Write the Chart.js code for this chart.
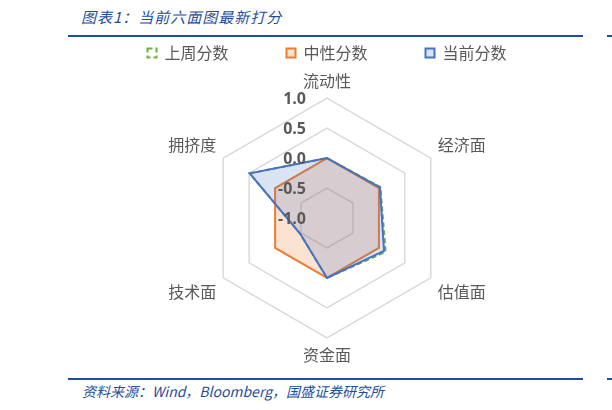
<!DOCTYPE html>
<html>
<head>
<meta charset="utf-8">
<script src="https://cdn.jsdelivr.net/npm/chart.js@4"></script>
<style>
  html, body { margin: 0; padding: 0; background: #fff; width: 612px; height: 410px; overflow: hidden; }
  body { position: relative; font-family: "Noto Sans CJK SC", "Noto Sans", sans-serif; }
  .title {
    position: absolute; left: 81px; top: 6px;
    font-size: 15px; font-style: italic; color: #1f4e9a; letter-spacing: 1px;
  }
  .rule { position: absolute; height: 2px; background: #1f4e9a; z-index: 2; }
  .source {
    position: absolute; left: 82px; top: 381px;
    font-size: 14px; font-style: italic; color: #1f4e9a;
  }
  /* canvas starts above the page so the wide legend padding only pushes it up */
  #wrap { position: absolute; left: 42px; top: -13px; width: 570px; height: 379px; }
</style>
</head>
<body>
<div class="title">图表1：当前六面图最新打分</div>
<div class="rule" style="left:68px; top:35px; width:515px;"></div>
<div class="rule" style="left:607px; top:35px; width:5px;"></div>
<div id="wrap"><canvas id="radar"></canvas></div>
<div class="rule" style="left:68px; top:378px; width:515px;"></div>
<div class="rule" style="left:607px; top:378px; width:5px;"></div>
<div class="source">资料来源：Wind，Bloomberg，国盛证券研究所</div>

<script>
// six scoring dimensions, clockwise from the top
const dimensions = ['流动性', '经济面', '估值面', '资金面', '技术面', '拥挤度'];

// scores
const lastWeek = [0.0, 0.03, 0.13, 0.0, -0.48, 0.49];
const neutral = [0.0, 0.0, 0.0, 0.0, 0.0, 0.0];
const current = [0.0, 0.02, 0.10, 0.0, -0.48, 0.49];

const tickValues = [-1.0, -0.5, 0.0, 0.5, 1.0];

// draw tick labels to the left of the vertical axis, on top of the fills
const tickLabelPlugin = {
    id: 'tickLabels',
    afterDatasetsDraw(chart) {
        const scale = chart.scales.r;
        const ctx = chart.ctx;
        ctx.save();
        ctx.font = 'bold 16px "Open Sans", sans-serif';
        ctx.fillStyle = '#595959';
        ctx.textAlign = 'right';
        ctx.textBaseline = 'middle';
        tickValues.forEach(v => {
            const pos = scale.getPointPositionForValue(0, v);
            ctx.fillText(v.toFixed(1), scale.xCenter - 21, pos.y + 1);
        });
        ctx.restore();
    }
};

new Chart(document.getElementById('radar'), {
    type: 'radar',
    data: {
        labels: dimensions,
        datasets: [
            {
                label: '上周分数',
                data: lastWeek,
                borderColor: '#70ad47',
                backgroundColor: 'rgba(255,255,255,0)',
                borderWidth: 2,
                borderDash: [5, 3],
                fill: false,
                pointRadius: 0,
                order: 3
            },
            {
                label: '中性分数',
                data: neutral,
                borderColor: '#ed7d31',
                backgroundColor: 'rgba(237,125,49,0.22)',
                borderWidth: 2,
                fill: 'start',
                pointRadius: 0,
                order: 2
            },
            {
                label: '当前分数',
                data: current,
                borderColor: '#4472c4',
                backgroundColor: 'rgba(68,114,196,0.2)',
                borderWidth: 2,
                fill: 'start',
                pointRadius: 0,
                order: 1
            }
        ]
    },
    options: {
        responsive: true,
        maintainAspectRatio: false,
        animation: false,
        layout: { padding: 0 },
        elements: { line: { tension: 0, borderJoinStyle: 'miter' } },
        plugins: {
            legend: {
                display: true,
                position: 'top',
                labels: {
                    boxWidth: 9,
                    boxHeight: 9,
                    padding: 58,
                    color: '#595959',
                    font: { size: 16, family: '"Noto Sans CJK SC", sans-serif' },
                    sort: (a, b) => a.datasetIndex - b.datasetIndex
                }
            },
            tooltip: { enabled: false }
        },
        scales: {
            r: {
                min: -1,
                max: 1,
                ticks: { stepSize: 0.5, display: false },
                grid: { color: '#d9d9d9', lineWidth: 1.5 },
                angleLines: { display: false },
                pointLabels: {
                    color: '#595959',
                    padding: 8,
                    font: { size: 16, family: '"Noto Sans CJK SC", sans-serif' }
                }
            }
        }
    },
    plugins: [tickLabelPlugin]
});
</script>
</body>
</html>
